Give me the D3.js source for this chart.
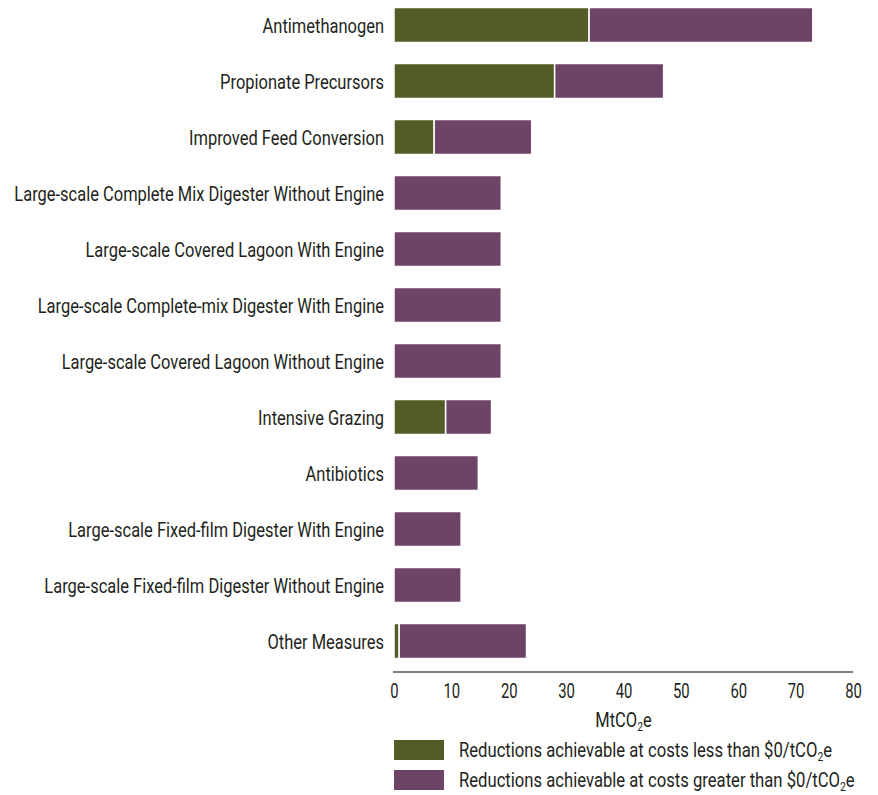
<!DOCTYPE html>
<html>
<head>
<meta charset="utf-8">
<script src="https://cdn.jsdelivr.net/npm/d3@7"></script>
<style>
  body { margin: 0; background: #fff; }
  text { font-family: 'Roboto', 'Liberation Sans', sans-serif; fill: #231f20; }
</style>
</head>
<body>
<div id="chart"></div>
<script>
const categories = [
  'Antimethanogen',
  'Propionate Precursors',
  'Improved Feed Conversion',
  'Large-scale Complete Mix Digester Without Engine',
  'Large-scale Covered Lagoon With Engine',
  'Large-scale Complete-mix Digester With Engine',
  'Large-scale Covered Lagoon Without Engine',
  'Intensive Grazing',
  'Antibiotics',
  'Large-scale Fixed-film Digester With Engine',
  'Large-scale Fixed-film Digester Without Engine',
  'Other Measures'
]
const belowZero = [34, 28, 7, 0, 0, 0, 0, 9, 0, 0, 0, 0.9]
const aboveZero = [39, 19, 17, 18.7, 18.7, 18.7, 18.7, 8, 14.7, 11.7, 11.7, 22.2]
const xTicks = [0, 10, 20, 30, 40, 50, 60, 70, 80]
const seriesNames = [
  'Reductions achievable at costs less than $0/tCO',
  'Reductions achievable at costs greater than $0/tCO'
]

const green = '#535b27'
const purple = '#6d4468'
const width = 878, height = 795
const fontSize = 21

const svg = d3.select('#chart')
  .append('svg')
  .attr('width', width)
  .attr('height', height)

const x = d3.scaleLinear().domain([0, 80]).range([394, 853])
const y = d3.scaleBand().domain(categories).range([-3, 669])
  .paddingInner(0.375).paddingOuter(0.1875)

// the original uses a condensed face, so squeeze text horizontally
const condense = (sel, k) => sel.each(function () {
  const t = d3.select(this)
  const px = +t.attr('x') || 0
  const py = +t.attr('y') || 0
  t.attr('x', 0).attr('y', 0)
    .attr('transform', `translate(${px},${py}) scale(${k},1)`)
})

// stacked segments
const stacked = categories.map((c, i) => [
  { cat: c, x0: 0, x1: belowZero[i], color: green },
  { cat: c, x0: belowZero[i], x1: belowZero[i] + aboveZero[i], color: purple }
])

svg.append('g').selectAll('g.row')
  .data(stacked)
  .enter()
  .append('g')
  .classed('row', true)
  .selectAll('rect')
  .data(d => d.filter(s => s.x1 > s.x0))
  .enter()
  .append('rect')
  .attr('x', d => x(d.x0))
  .attr('y', d => y(d.cat))
  .attr('width', d => x(d.x1) - x(d.x0))
  .attr('height', y.bandwidth())
  .attr('fill', d => d.color)
  .attr('stroke', '#fff')
  .attr('stroke-width', 1.5)

// category labels
const catLabels = svg.append('g').selectAll('text.cat')
  .data(categories)
  .enter()
  .append('text')
  .classed('cat', true)
  .attr('x', 384)
  .attr('y', d => y(d) + y.bandwidth() / 2 + 1)
  .attr('dy', '0.35em')
  .attr('text-anchor', 'end')
  .attr('font-size', fontSize)
  .text(d => d)

const widest = d3.max(catLabels.nodes(), n => n.getComputedTextLength())
const K = 370 / widest
catLabels.call(condense, K)

// x axis
const xAxis = d3.axisBottom(x).tickValues(xTicks).tickSize(0).tickPadding(11)
const gx = svg.append('g')
  .attr('transform', 'translate(0,672)')
  .call(xAxis)
gx.select('.domain').attr('stroke', '#7f7f7f').attr('stroke-width', 2)
  .attr('d', 'M393,0H853')
gx.selectAll('.tick text')
  .attr('font-size', fontSize)
  .attr('font-family', null)
  .attr('fill', '#231f20')
  .attr('transform', `scale(${K * 0.9},1)`)

const axisLabel = svg.append('text')
  .attr('x', x(40))
  .attr('y', 727)
  .attr('text-anchor', 'middle')
  .attr('font-size', fontSize)
axisLabel.append('tspan').text('MtCO')
axisLabel.append('tspan').attr('font-size', 13).attr('dy', 4).text('2')
axisLabel.append('tspan').attr('dy', -4).text('e')
axisLabel.call(condense, K)

// legend
const legend = svg.append('g').selectAll('g.legend')
  .data(seriesNames)
  .enter()
  .append('g')
  .classed('legend', true)
  .attr('transform', (d, i) => `translate(394, ${740 + i * 30})`)

legend.append('rect')
  .attr('width', 50)
  .attr('height', 20)
  .attr('fill', (d, i) => i === 0 ? green : purple)

const lt = legend.append('text')
  .attr('x', 65)
  .attr('y', 10)
  .attr('dy', '0.35em')
  .attr('font-size', fontSize)
lt.append('tspan').text(d => d)
lt.append('tspan').attr('font-size', 13).attr('dy', 4).text('2')
lt.append('tspan').attr('dy', -4).text('e')
const legendWidest = d3.max(lt.nodes(), n => n.getComputedTextLength())
lt.call(condense, 396 / legendWidest)
</script>
</body>
</html>
